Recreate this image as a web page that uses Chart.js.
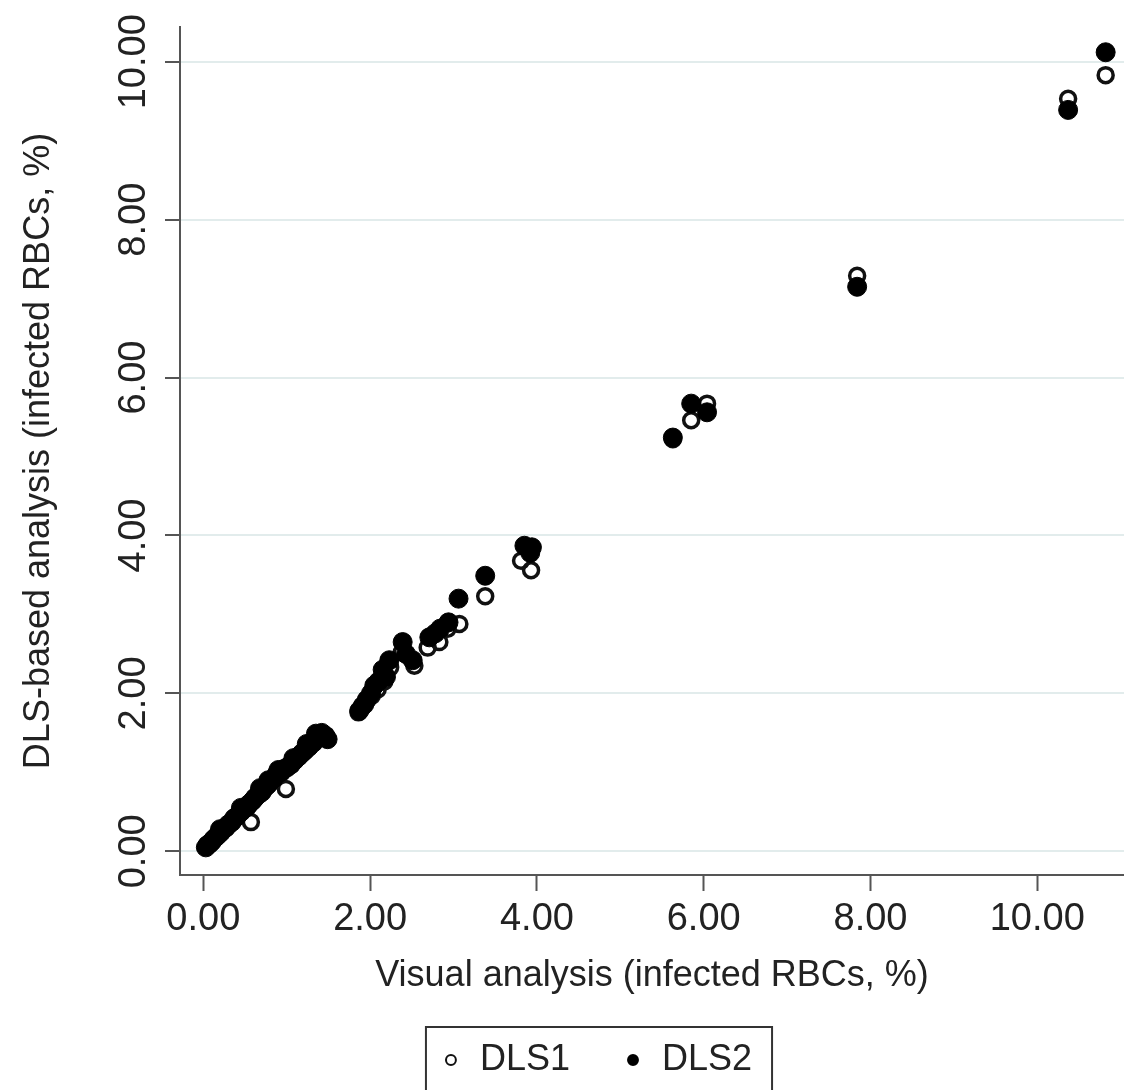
<!DOCTYPE html>
<html>
<head>
<meta charset="utf-8">
<title>DLS vs visual analysis</title>
<script src="https://cdn.jsdelivr.net/npm/chart.js@4.4.1/dist/chart.umd.min.js"></script>
<style>
  html, body { margin: 0; padding: 0; background: #fff; overflow: hidden; }
  canvas { display: block; }
</style>
</head>
<body>
<canvas id="chart" width="1124" height="1090"></canvas>
<script>
// Axis ticks
const xTicks = [0, 2, 4, 6, 8, 10];
const yTicks = [0, 2, 4, 6, 8, 10];

// DLS1 (hollow markers)
const dls1X = [0.04, 0.08, 0.13, 0.17, 0.22, 0.26, 0.31, 0.35, 0.41, 0.46, 0.51, 0.57, 0.61, 0.67,
  0.72, 0.78, 0.83, 0.89, 0.94, 0.99, 1.03, 1.09, 1.15, 1.21, 1.26, 1.33, 1.40, 1.47,
  0.30, 0.62, 0.86, 1.12,
  1.86, 1.94, 2.02, 2.09, 2.17, 2.24, 2.38, 2.53, 2.69, 2.83, 2.93, 3.07, 3.38, 3.81, 3.93,
  5.63, 5.85, 6.04, 7.84, 10.37, 10.82];
const dls1Y = [0.07, 0.11, 0.16, 0.20, 0.25, 0.29, 0.34, 0.39, 0.45, 0.50, 0.55, 0.37, 0.66, 0.72,
  0.78, 0.84, 0.89, 0.95, 1.00, 0.79, 1.08, 1.14, 1.20, 1.26, 1.31, 1.38, 1.44, 1.47,
  0.33, 0.67, 0.93, 1.18,
  1.76, 1.86, 1.97, 2.05, 2.15, 2.33, 2.52, 2.35, 2.58, 2.65, 2.82, 2.88, 3.23, 3.68, 3.56,
  5.22, 5.46, 5.67, 7.29, 9.53, 9.83];

// DLS2 (filled markers)
const dls2X = [0.03, 0.05, 0.07, 0.10, 0.12, 0.15, 0.18, 0.21, 0.24, 0.27, 0.30, 0.34, 0.37, 0.40,
  0.44, 0.48, 0.52, 0.55, 0.59, 0.62, 0.66, 0.70, 0.73, 0.76, 0.80, 0.84, 0.88, 0.92, 0.96,
  1.00, 1.05, 1.10, 1.14, 1.18, 1.22, 1.27, 1.31, 1.35, 1.38, 1.42, 1.46, 1.49,
  0.20, 0.45, 0.68, 0.78, 0.90, 1.08, 1.24,
  1.87, 1.91, 1.96, 2.01, 2.05, 2.10, 2.15, 2.19, 2.23, 2.43, 2.51, 2.39, 2.71, 2.78, 2.84,
  2.94, 3.06, 3.38, 3.85, 3.94, 3.92, 5.63, 5.85, 6.04, 7.84, 10.37, 10.82];
const dls2Y = [0.05, 0.08, 0.09, 0.12, 0.15, 0.18, 0.21, 0.24, 0.28, 0.30, 0.34, 0.37, 0.42, 0.44,
  0.49, 0.53, 0.56, 0.60, 0.64, 0.68, 0.72, 0.75, 0.80, 0.83, 0.88, 0.92, 0.98, 1.00, 1.04,
  1.06, 1.10, 1.16, 1.20, 1.24, 1.28, 1.33, 1.37, 1.49, 1.44, 1.50, 1.46, 1.42,
  0.28, 0.55, 0.80, 0.90, 1.03, 1.18, 1.36,
  1.78, 1.84, 1.92, 2.00, 2.10, 2.15, 2.30, 2.21, 2.42, 2.50, 2.42, 2.65, 2.71, 2.76, 2.82,
  2.90, 3.20, 3.49, 3.87, 3.85, 3.78, 5.24, 5.67, 5.56, 7.15, 9.39, 10.12];

const FONT = "'Liberation Sans', Arial, Helvetica, sans-serif";
const INK = "#222";
const AXIS = "#555";

const toPoints = (xs, ys) => xs.map((x, i) => ({ x, y: ys[i] }));

// box around the legend, like the Stata legend frame
const legendFrame = {
  id: "legendFrame",
  afterDraw(chart) {
    const boxes = chart.legend.legendHitBoxes;
    if (!boxes || !boxes.length) return;
    const first = boxes[0];
    const last = boxes[boxes.length - 1];
    const left = first.left - 14;
    const right = last.left + last.width + 20;
    const ctx = chart.ctx;
    ctx.save();
    ctx.strokeStyle = "#333";
    ctx.lineWidth = 2;
    ctx.strokeRect(left, first.top - 15, right - left, first.height + 40);
    ctx.restore();
  }
};

const setTicks = values => scale => { scale.ticks = values.map(value => ({ value })); };

new Chart(document.getElementById("chart"), {
  type: "scatter",
  data: {
    datasets: [
      {
        label: "DLS1",
        data: toPoints(dls1X, dls1Y),
        order: 2, // drawn under DLS2
        pointStyle: "circle",
        pointRadius: 7.5,
        pointBorderWidth: 3.5,
        pointBorderColor: "#111",
        pointBackgroundColor: "rgba(0,0,0,0)",
        borderColor: "#111",
        backgroundColor: "rgba(0,0,0,0)"
      },
      {
        label: "DLS2",
        data: toPoints(dls2X, dls2Y),
        order: 1,
        pointStyle: "circle",
        pointRadius: 9.5,
        pointBorderWidth: 1,
        pointBorderColor: "#000",
        pointBackgroundColor: "#000",
        borderColor: "#000",
        backgroundColor: "#000"
      }
    ]
  },
  options: {
    responsive: false,
    animation: false,
    events: [],
    layout: { autoPadding: false, padding: { top: 27, right: 0, bottom: 2, left: 68 } },
    plugins: {
      tooltip: { enabled: false },
      legend: {
        position: "bottom",
        labels: {
          usePointStyle: true,
          boxWidth: 22,
          boxHeight: 7,
          padding: 52,
          color: INK,
          font: { family: FONT, size: 36 },
          sort: (a, b) => a.datasetIndex - b.datasetIndex,
          generateLabels: chart => Chart.defaults.plugins.legend.labels.generateLabels(chart)
            .map(item => ({ ...item, lineWidth: 2 }))
        }
      }
    },
    scales: {
      x: {
        type: "linear",
        min: -0.28,
        max: 11.04,
        afterBuildTicks: setTicks(xTicks),
        afterFit: s => { s.height = 115; s.paddingLeft = 0; s.paddingRight = 0; },
        border: { color: AXIS, width: 2 },
        grid: { drawOnChartArea: false, tickLength: 16, tickColor: AXIS, tickWidth: 2 },
        ticks: {
          padding: 6,
          color: INK,
          font: { family: FONT, size: 38 },
          maxRotation: 0,
          autoSkip: false,
          callback: v => v.toFixed(2)
        },
        title: {
          display: true,
          text: "Visual analysis (infected RBCs, %)",
          color: INK,
          font: { family: FONT, size: 36 },
          padding: { top: 0, bottom: -8 }
        }
      },
      y: {
        type: "linear",
        min: -0.30,
        max: 10.44,
        afterBuildTicks: setTicks(yTicks),
        afterFit: s => { s.width = 112; s.paddingTop = 0; s.paddingBottom = 0; },
        border: { color: AXIS, width: 2 },
        grid: { color: "#e2ecec", lineWidth: 2, tickLength: 15, tickColor: AXIS, tickWidth: 2 },
        ticks: {
          padding: -17,
          crossAlign: "center",
          minRotation: 90,
          maxRotation: 90,
          autoSkip: false,
          color: INK,
          font: { family: FONT, size: 38 },
          callback: v => v.toFixed(2)
        },
        title: {
          display: true,
          text: "DLS-based analysis (infected RBCs, %)",
          color: INK,
          font: { family: FONT, size: 36 },
          padding: { top: -51, bottom: 0 }
        }
      }
    }
  },
  plugins: [legendFrame]
});
</script>
</body>
</html>
